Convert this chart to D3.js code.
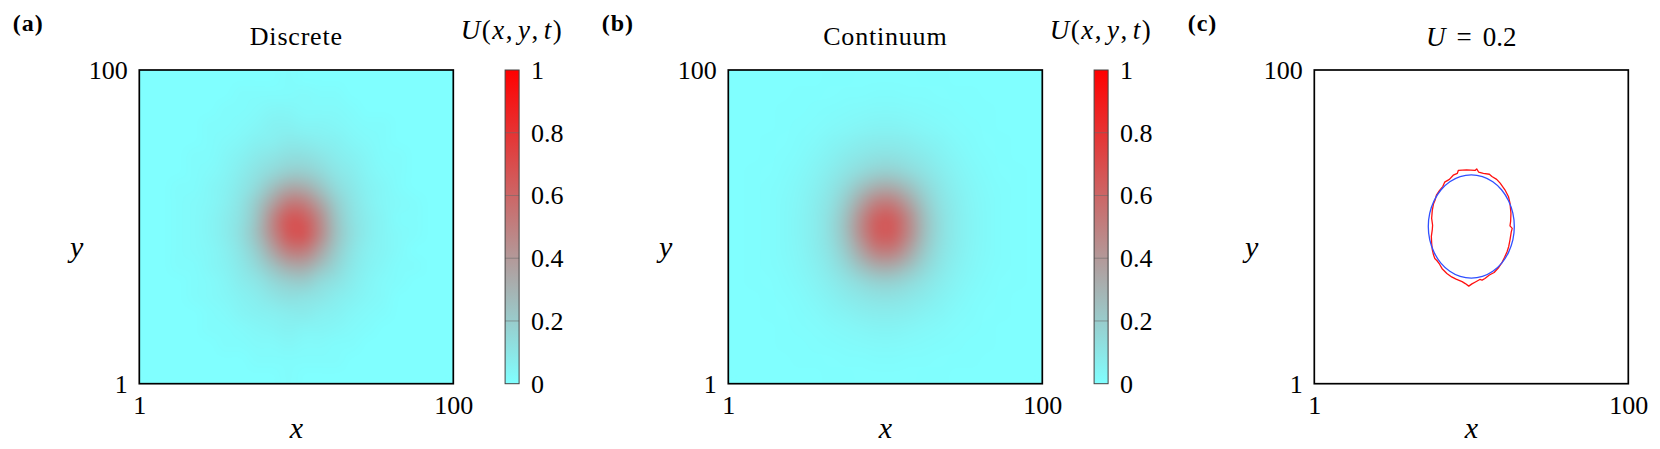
<!DOCTYPE html>
<html><head><meta charset="utf-8">
<script src="https://cdn.jsdelivr.net/npm/d3@7"></script>
<style>
html,body{margin:0;padding:0;background:#fff;}
svg{display:block;}
svg text{font-family:"Liberation Serif","DejaVu Serif",serif !important;}
</style></head><body>
<svg id="chart" width="1660" height="449"></svg>
<script>
// ---------- data ----------
const xTicks = [1, 100];
const yTicks = [1, 100];
const colorTicks = [0, 0.2, 0.4, 0.6, 0.8, 1];
const colorStops = ["#80ffff", "#ff0000"];
const panelTitles = ["Discrete", "Continuum"];
const panelLetters = ["(a)", "(b)", "(c)"];
const contourLevel = 0.2;

// U on a 20x20 grid (rows from y=100 down to y=1, columns from x=1 to x=100)
const discreteU = [
[0,0,0,0,0,0,0,0,0,0.01,0,0,0,0,0,0,0,0,0,0],
[0,0,0,0,0,0,0.01,0.01,0.01,0.01,0.02,0.01,0.01,0,0,0,0,0,0,0],
[0,0,0,0,0,0.01,0.01,0.02,0.03,0.03,0.02,0.02,0.02,0.01,0,0,0,0,0,0],
[0,0,0,0,0.01,0.01,0.02,0.03,0.05,0.05,0.04,0.04,0.03,0.02,0.01,0.01,0,0,0,0],
[0,0,0,0,0.01,0.02,0.03,0.05,0.06,0.08,0.07,0.06,0.05,0.03,0.02,0.01,0,0,0,0],
[0,0,0,0.01,0.01,0.03,0.05,0.08,0.10,0.12,0.12,0.10,0.07,0.05,0.03,0.01,0.01,0,0,0],
[0,0,0,0.01,0.02,0.04,0.07,0.11,0.15,0.19,0.19,0.15,0.10,0.07,0.04,0.02,0.01,0,0,0],
[0,0,0.01,0.01,0.03,0.05,0.09,0.15,0.25,0.34,0.33,0.24,0.14,0.09,0.05,0.03,0.01,0,0,0],
[0,0,0.01,0.02,0.03,0.06,0.11,0.21,0.37,0.52,0.51,0.36,0.20,0.11,0.06,0.03,0.02,0.01,0,0],
[0,0,0.01,0.02,0.04,0.07,0.12,0.24,0.47,0.66,0.64,0.46,0.24,0.12,0.07,0.04,0.01,0.01,0,0],
[0,0,0.01,0.02,0.04,0.07,0.13,0.25,0.46,0.65,0.67,0.47,0.25,0.13,0.07,0.04,0.02,0.01,0,0],
[0,0,0.01,0.02,0.03,0.06,0.11,0.20,0.36,0.51,0.52,0.37,0.21,0.11,0.06,0.04,0.02,0,0,0],
[0,0,0.01,0.01,0.03,0.05,0.09,0.15,0.24,0.33,0.34,0.25,0.16,0.09,0.05,0.03,0.01,0.01,0,0],
[0,0,0,0.01,0.02,0.04,0.07,0.10,0.15,0.19,0.20,0.14,0.11,0.07,0.04,0.02,0.01,0,0,0],
[0,0,0,0.01,0.02,0.03,0.05,0.07,0.10,0.12,0.11,0.10,0.07,0.05,0.03,0.02,0,0,0,0],
[0,0,0,0,0.01,0.02,0.04,0.05,0.06,0.07,0.08,0.06,0.05,0.03,0.02,0.01,0,0,0,0],
[0,0,0,0,0.01,0.01,0.02,0.03,0.04,0.05,0.04,0.04,0.03,0.02,0.01,0,0,0,0,0],
[0,0,0,0,0,0.01,0.01,0.02,0.02,0.03,0.02,0.02,0.01,0.01,0,0,0,0,0,0],
[0,0,0,0,0,0,0,0.01,0.01,0.01,0.01,0.01,0.01,0,0,0,0,0,0,0],
[0,0,0,0,0,0,0,0,0,0.01,0,0,0,0,0,0,0,0,0,0]
];
const continuumU = [
[0,0,0,0,0,0.001,0.002,0.003,0.004,0.005,0.005,0.004,0.003,0.002,0.001,0,0,0,0,0],
[0,0,0,0,0.002,0.003,0.005,0.007,0.009,0.011,0.011,0.009,0.007,0.005,0.003,0.002,0,0,0,0],
[0,0,0,0.002,0.003,0.006,0.01,0.016,0.021,0.023,0.023,0.021,0.016,0.01,0.006,0.003,0.002,0,0,0],
[0,0,0.001,0.003,0.006,0.012,0.02,0.029,0.037,0.042,0.042,0.037,0.029,0.02,0.012,0.006,0.003,0.001,0,0],
[0,0,0.002,0.005,0.01,0.021,0.034,0.048,0.061,0.069,0.069,0.061,0.048,0.034,0.021,0.01,0.005,0.002,0,0],
[0,0.001,0.003,0.007,0.017,0.031,0.051,0.073,0.095,0.111,0.111,0.095,0.073,0.051,0.031,0.017,0.007,0.003,0.001,0],
[0,0.002,0.004,0.011,0.024,0.044,0.071,0.107,0.146,0.18,0.18,0.146,0.107,0.071,0.044,0.024,0.011,0.004,0.002,0],
[0,0.002,0.006,0.015,0.031,0.056,0.093,0.155,0.25,0.33,0.33,0.25,0.155,0.093,0.056,0.031,0.015,0.006,0.002,0],
[0,0.003,0.007,0.018,0.036,0.066,0.115,0.21,0.37,0.51,0.51,0.37,0.21,0.115,0.066,0.036,0.018,0.007,0.003,0],
[0,0.003,0.007,0.019,0.04,0.072,0.13,0.25,0.46,0.63,0.63,0.46,0.25,0.13,0.072,0.04,0.019,0.007,0.003,0],
[0,0.003,0.007,0.019,0.04,0.072,0.13,0.25,0.46,0.63,0.63,0.46,0.25,0.13,0.072,0.04,0.019,0.007,0.003,0],
[0,0.003,0.007,0.018,0.036,0.066,0.115,0.21,0.37,0.51,0.51,0.37,0.21,0.115,0.066,0.036,0.018,0.007,0.003,0],
[0,0.002,0.006,0.015,0.031,0.056,0.093,0.155,0.25,0.33,0.33,0.25,0.155,0.093,0.056,0.031,0.015,0.006,0.002,0],
[0,0.002,0.004,0.011,0.024,0.044,0.071,0.107,0.146,0.18,0.18,0.146,0.107,0.071,0.044,0.024,0.011,0.004,0.002,0],
[0,0.001,0.003,0.007,0.017,0.031,0.051,0.073,0.095,0.111,0.111,0.095,0.073,0.051,0.031,0.017,0.007,0.003,0.001,0],
[0,0,0.002,0.005,0.01,0.021,0.034,0.048,0.061,0.069,0.069,0.061,0.048,0.034,0.021,0.01,0.005,0.002,0,0],
[0,0,0.001,0.003,0.006,0.012,0.02,0.029,0.037,0.042,0.042,0.037,0.029,0.02,0.012,0.006,0.003,0.001,0,0],
[0,0,0,0.002,0.003,0.006,0.01,0.016,0.021,0.023,0.023,0.021,0.016,0.01,0.006,0.003,0.002,0,0,0],
[0,0,0,0,0.002,0.003,0.005,0.007,0.009,0.011,0.011,0.009,0.007,0.005,0.003,0.002,0,0,0,0],
[0,0,0,0,0,0.001,0.002,0.003,0.004,0.005,0.005,0.004,0.003,0.002,0.001,0,0,0,0,0]
];

// U = 0.2 level sets, [x, y]
const redContour = [
[46.1,67.4],[46.4,68.3],[49.0,68.5],[51.7,68.3],[52.2,68.8],[52.8,67.8],[54.3,67.4],[56.2,67.1],
[57.0,66.4],[58.5,65.5],[59.6,64.3],[61.1,62.2],[62.2,60.1],[62.7,58.0],[63.0,54.8],[62.9,52.2],
[62.7,50.8],[63.4,50.0],[63.1,48.9],[62.7,46.4],[62.3,44.3],[61.8,42.7],[61.0,40.9],[60.1,39.1],
[59.0,37.5],[57.7,36.1],[56.2,35.3],[54.8,34.2],[53.9,33.7],[53.2,33.9],[51.8,33.1],[50.7,32.5],
[49.7,31.8],[48.6,32.6],[47.6,33.2],[45.7,34.0],[44.3,34.7],[42.8,35.8],[41.3,37.3],[40.5,38.7],
[39.7,39.8],[39.0,40.5],[38.6,41.6],[38.2,43.3],[38.0,45.4],[37.9,47.5],[38.2,49.6],[38.3,51.0],
[38.0,53.2],[38.2,55.7],[38.6,57.8],[39.1,59.0],[39.5,60.5],[40.5,62.0],[41.5,63.2],[42.1,64.6],
[43.6,65.5],[44.8,66.8]
];
const blueContour = [
[64.06,50.6],[63.60,54.82],[62.24,58.75],[60.09,62.13],[57.28,64.72],[54.01,66.34],[50.5,66.9],
[46.99,66.34],[43.72,64.72],[40.91,62.13],[38.76,58.75],[37.40,54.82],[36.94,50.6],[37.40,46.38],
[38.76,42.45],[40.91,39.07],[43.72,36.48],[46.99,34.86],[50.5,34.3],[54.01,34.86],[57.28,36.48],
[60.09,39.07],[62.24,42.45],[63.60,46.38]
];

// ---------- drawing ----------
const FONT = "Liberation Serif, DejaVu Serif, serif";
const svg = d3.select("#chart");
const boxLefts = [139.3, 728.3, 1314.3];
const boxW = 314, boxH = 313.7, boxTop = 70;
const color = d3.scaleLinear().domain([0, 1]).range(colorStops).interpolate(d3.interpolateRgb);

const defs = svg.append("defs");
const grad = defs.append("linearGradient").attr("id", "cbgrad")
  .attr("x1", 0).attr("y1", 1).attr("x2", 0).attr("y2", 0);
colorTicks.forEach(v => grad.append("stop").attr("offset", v).attr("stop-color", color(v)));

function heatImage(grid, w, h) {
  const ny = grid.length, nx = grid[0].length;
  const small = document.createElement("canvas");
  small.width = nx; small.height = ny;
  const sc = small.getContext("2d");
  const img = sc.createImageData(nx, ny);
  grid.forEach((row, j) => row.forEach((v, i) => {
    const c = d3.rgb(color(v)); const k = (j * nx + i) * 4;
    img.data[k] = c.r; img.data[k + 1] = c.g; img.data[k + 2] = c.b; img.data[k + 3] = 255;
  }));
  sc.putImageData(img, 0, 0);
  const big = document.createElement("canvas");
  big.width = Math.round(w); big.height = Math.round(h);
  const bc = big.getContext("2d");
  bc.fillStyle = color(0); bc.fillRect(0, 0, big.width, big.height);
  bc.imageSmoothingEnabled = true; bc.imageSmoothingQuality = "high";
  bc.filter = "blur(3px)";
  bc.drawImage(small, 0, 0, big.width, big.height);
  return big.toDataURL();
}

function styleAxis(sel) {
  sel.attr("font-family", FONT).attr("font-size", 26);
  sel.select(".domain").remove();
  sel.selectAll("text").attr("fill", "#000");
}

function uLabel(g, cx, baseline) {
  const t = g.append("text").attr("x", cx).attr("y", baseline).attr("text-anchor", "middle")
    .attr("font-size", 27).attr("letter-spacing", 1.5);
  t.append("tspan").attr("font-style", "italic").text("U");
  t.append("tspan").text("(");
  t.append("tspan").attr("font-style", "italic").text("x");
  t.append("tspan").text(",");
  t.append("tspan").attr("dx", 4).attr("font-style", "italic").text("y");
  t.append("tspan").text(",");
  t.append("tspan").attr("dx", 4).attr("font-style", "italic").text("t");
  t.append("tspan").text(")");
}

boxLefts.forEach((L, p) => {
  const g = svg.append("g");
  const x = d3.scaleLinear().domain([1, 100]).range([L, L + boxW]);
  const y = d3.scaleLinear().domain([1, 100]).range([boxTop + boxH, boxTop]);
  const w = x(100) - x(1), h = y(1) - y(100);

  if (p < 2) {
    const grid = p === 0 ? discreteU : continuumU;
    g.append("image").attr("x", x(1)).attr("y", y(100)).attr("width", w).attr("height", h)
      .attr("preserveAspectRatio", "none").attr("href", heatImage(grid, w, h));
  } else {
    const line = d3.line().x(d => x(d[0])).y(d => y(d[1]));
    g.append("path").datum(redContour).attr("d", line.curve(d3.curveLinearClosed))
      .attr("fill", "none").attr("stroke", "#ff1010").attr("stroke-width", 1.3).attr("stroke-linejoin", "round");
    g.append("path").datum(blueContour).attr("d", d3.line().x(d => x(d[0])).y(d => y(d[1])).curve(d3.curveCatmullRomClosed))
      .attr("fill", "none").attr("stroke", "#3050ff").attr("stroke-width", 1.3);
  }
  // box
  g.append("rect").attr("x", x(1)).attr("y", y(100)).attr("width", w).attr("height", h)
    .attr("fill", "none").attr("stroke", "#000").attr("stroke-width", 1.7);

  // axes
  g.append("g").attr("transform", `translate(0,${y(1)})`)
    .call(d3.axisBottom(x).tickValues(xTicks).tickSize(0).tickPadding(12).tickFormat(d3.format("d")))
    .call(styleAxis);
  g.append("g").attr("transform", `translate(${x(1)},0)`)
    .call(d3.axisLeft(y).tickValues(yTicks).tickSize(0).tickPadding(11.5).tickFormat(d3.format("d")))
    .call(styleAxis);

  // axis labels
  g.append("text").attr("x", (x(1) + x(100)) / 2).attr("y", 438).attr("text-anchor", "middle")
    .attr("font-size", 30).attr("font-style", "italic").text("x");
  g.append("text").attr("x", x(1) - 62.6).attr("y", 257).attr("text-anchor", "middle")
    .attr("font-size", 30).attr("font-style", "italic").text("y");

  // panel letter
  g.append("text").attr("x", L - 126.6).attr("y", 30.5)
    .attr("font-size", 24).attr("font-weight", "bold").attr("letter-spacing", 1).text(panelLetters[p]);

  // title
  if (p < 2) {
    g.append("text").attr("x", (x(1) + x(100)) / 2).attr("y", 45).attr("text-anchor", "middle")
      .attr("font-size", 26).attr("letter-spacing", 0.8).text(panelTitles[p]);
  } else {
    const t = g.append("text").attr("x", (x(1) + x(100)) / 2).attr("y", 45.5).attr("text-anchor", "middle")
      .attr("font-size", 27);
    t.append("tspan").attr("font-style", "italic").text("U");
    t.append("tspan").attr("dx", 11).text("=");
    t.append("tspan").attr("dx", 11).text(d3.format("~g")(contourLevel));
  }

  // colorbar
  if (p < 2) {
    const cbL = x(100) + 51.8, cbW = 14;
    const cy = d3.scaleLinear().domain([0, 1]).range([boxTop + boxH, boxTop]);
    g.append("rect").attr("x", cbL).attr("y", cy(1)).attr("width", cbW).attr("height", cy(0) - cy(1))
      .attr("fill", "url(#cbgrad)");
    g.selectAll(".cbtick").data(colorTicks.slice(1, -1)).enter().append("line")
      .attr("x1", cbL).attr("x2", cbL + cbW).attr("y1", d => cy(d)).attr("y2", d => cy(d))
      .attr("stroke", "#6a6a6a").attr("stroke-opacity", 0.6).attr("stroke-width", 1);
    g.append("rect").attr("x", cbL).attr("y", cy(1)).attr("width", cbW).attr("height", cy(0) - cy(1))
      .attr("fill", "none").attr("stroke", "#444").attr("stroke-width", 1);
    g.append("g").attr("transform", `translate(${cbL + cbW},0)`)
      .call(d3.axisRight(cy).tickValues(colorTicks).tickSize(0).tickPadding(12).tickFormat(d3.format("~g")))
      .call(styleAxis);
    uLabel(g, cbL + cbW / 2, 38.5);
  }
});
</script>
</body></html>
